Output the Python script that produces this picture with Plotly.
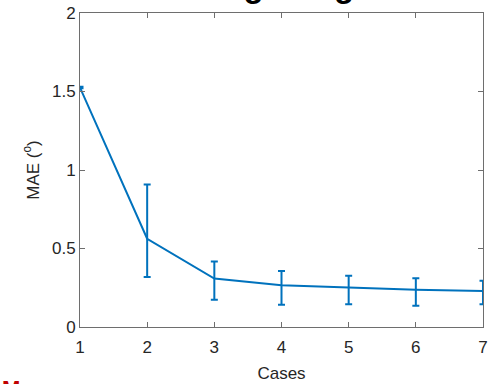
import plotly.graph_objects as go

cases = [1, 2, 3, 4, 5, 6, 7]
mae = [1.525, 0.562, 0.309, 0.266, 0.251, 0.238, 0.230]
err_plus = [0.005, 0.345, 0.108, 0.090, 0.075, 0.073, 0.064]
err_minus = [0.005, 0.243, 0.135, 0.125, 0.106, 0.102, 0.085]
x_ticks = [1, 2, 3, 4, 5, 6, 7]
y_ticks = [0, 0.5, 1, 1.5, 2]
y_tick_labels = ["0", "0.5", "1", "1.5", "2"]

blue = "#0072BD"
axis_col = "#6e6e6e"
font_col = "#262626"
FONT = "Liberation Sans, Arial, sans-serif"

fig = go.Figure()
fig.add_trace(go.Scatter(
    x=cases, y=mae, mode="lines",
    line=dict(color=blue, width=2),
    error_y=dict(type="data", array=err_plus, arrayminus=err_minus,
                 symmetric=False, color=blue, thickness=2, width=3.5),
    cliponaxis=False, showlegend=False, hoverinfo="skip",
))

axis_common = dict(
    showline=True, linecolor=axis_col, linewidth=1, mirror="allticks",
    ticks="inside", ticklen=5, tickcolor=axis_col, tickwidth=1,
    showgrid=False, zeroline=False, automargin=False,
    tickfont=dict(family=FONT, size=17, color=font_col),
)

fig.update_layout(
    width=495, height=384,
    margin=dict(l=80, r=12, t=13, b=57, autoexpand=False),
    paper_bgcolor="white", plot_bgcolor="white",
    font=dict(family=FONT, color=font_col),
    xaxis=dict(range=[1, 7], tickvals=x_ticks, ticklabelstandoff=5,
               title=dict(text="Cases", font=dict(family=FONT, size=17, color=font_col), standoff=10),
               **axis_common),
    yaxis=dict(range=[0, 2], tickvals=y_ticks, ticktext=y_tick_labels,
               title=dict(text="MAE (<sup>o</sup>)", font=dict(family=FONT, size=17, color=font_col), standoff=8),
               **axis_common),
    annotations=[
        dict(text="<b>Average Angle</b>", xref="paper", yref="paper",
             x=0.5, y=1.0, xshift=-14, yshift=7, xanchor="center", yanchor="bottom",
             showarrow=False, font=dict(family=FONT, size=33, color="black")),
        dict(text="<b>M</b>", xref="paper", yref="paper",
             x=0, y=0, xshift=-80, yshift=-47, xanchor="left", yanchor="top",
             showarrow=False, font=dict(family=FONT, size=22, color="#c00000")),
    ],
)

fig.write_html("out.html", config={"displayModeBar": False},
               post_script="document.body.style.margin='0';document.body.style.padding='0';")
